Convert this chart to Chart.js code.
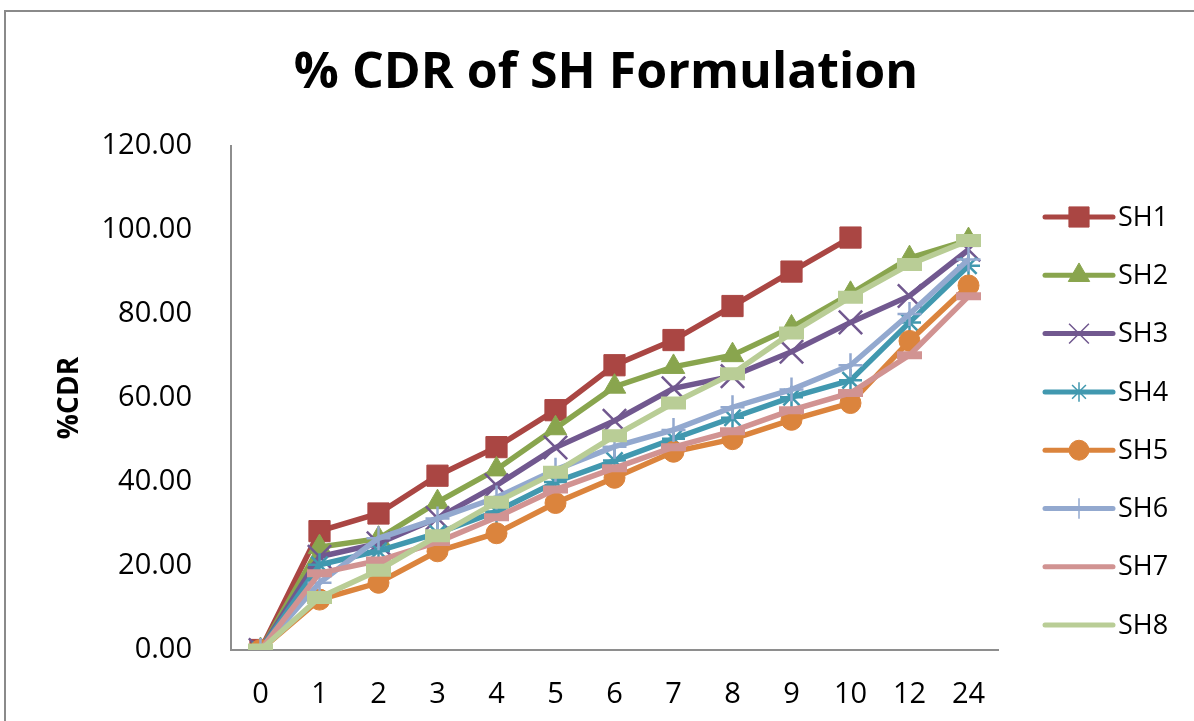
<!DOCTYPE html>
<html>
<head>
<meta charset="utf-8">
<title>% CDR of SH Formulation</title>
<script src="https://cdn.jsdelivr.net/npm/chart.js@4.4.1/dist/chart.umd.min.js"></script>
<style>
  html, body { margin: 0; padding: 0; background: #fff; overflow: hidden; }
  #wrap { position: relative; width: 1194px; height: 721px; }
  #frame {
    position: absolute; left: 4px; top: 10px; width: 1300px; height: 800px;
    border: 2px solid #8a8a8a; pointer-events: none;
  }
</style>
</head>
<body>
<div id="wrap">
  <canvas id="grafico" width="1194" height="721"></canvas>
  <div id="frame"></div>
</div>
<script>
// time points (h)
const horas = ['0', '1', '2', '3', '4', '5', '6', '7', '8', '9', '10', '12', '24'];

// cumulative drug release, %
const sh1 = [0, 28.3, 32.5, 41.5, 48.3, 57.1, 67.8, 73.8, 81.9, 90.1, 98.2, null, null];
const sh2 = [0, 24.5, 26.5, 35.2, 43.0, 52.8, 62.7, 67.4, 70.2, 76.8, 84.8, 93.3, 97.6];
const sh3 = [0, 22.2, 25.4, 31.4, 39.2, 48.2, 54.6, 62.3, 65.2, 71.0, 78.0, 84.3, 95.3];
const sh4 = [0, 20.3, 23.6, 27.8, 33.0, 40.0, 45.1, 50.3, 55.3, 60.2, 64.2, 78.0, 91.5];
const sh5 = [0, 12.0, 16.0, 23.5, 27.8, 35.0, 41.0, 47.2, 50.2, 54.8, 58.8, 73.6, 86.8];
const sh6 = [0, 16.0, 26.6, 31.3, 36.3, 42.9, 48.4, 52.4, 57.8, 62.0, 67.8, 80.0, 93.0];
const sh7 = [0, 18.3, 21.3, 25.7, 31.6, 38.2, 43.3, 48.3, 52.1, 57.1, 61.2, 70.2, 84.2];
const sh8 = [0, 12.5, 19.0, 27.2, 35.2, 42.3, 51.0, 58.8, 65.8, 75.5, 84.0, 91.8, 97.5];

const nombres = ['SH1', 'SH2', 'SH3', 'SH4', 'SH5', 'SH6', 'SH7', 'SH8'];
const series = [sh1, sh2, sh3, sh4, sh5, sh6, sh7, sh8];
const colores = ['#AA4643', '#89A54E', '#71588F', '#4198AF', '#DB843D', '#93A9CF', '#D19392', '#B9CD96'];

// marker per series: style, radius, border width
const marcadores = [
  { style: 'rect', radius: 15, border: 1 },
  { style: 'triangle', radius: 13, border: 1 },
  { style: 'crossRot', radius: 16.5, border: 2.5 },
  { style: 'star', radius: 11.5, border: 2.5 },
  { style: 'circle', radius: 10.5, border: 1 },
  { style: 'cross', radius: 12, border: 2.5 },
  { style: 'line', radius: 12.5, border: 8 },
  { style: 'line', radius: 12.5, border: 13 }
];

const fuente = "'Open Sans', 'Liberation Sans', sans-serif";

const datasets = series.map((valores, i) => ({
  label: nombres[i],
  data: valores,
  borderColor: colores[i],
  backgroundColor: colores[i],
  borderWidth: 5.5,
  tension: 0,
  spanGaps: false,
  pointStyle: marcadores[i].style,
  pointRadius: marcadores[i].radius,
  pointHoverRadius: marcadores[i].radius,
  pointBorderWidth: marcadores[i].border,
  pointBackgroundColor: colores[i],
  pointBorderColor: colores[i],
  order: series.length - 1 - i
}));

// legend on the right: line segment with the series marker in the middle
const leyenda = {
  id: 'leyenda',
  afterDraw(chart) {
    const ctx = chart.ctx;
    const x0 = 1045, x1 = 1113, y0 = 217, paso = 58.3;
    ctx.save();
    nombres.forEach((nombre, i) => {
      const y = y0 + i * paso;
      ctx.strokeStyle = colores[i];
      ctx.fillStyle = colores[i];
      ctx.lineWidth = 5;
      ctx.lineCap = 'round';
      ctx.beginPath();
      ctx.moveTo(x0, y);
      ctx.lineTo(x1, y);
      ctx.stroke();
      ctx.lineCap = 'butt';
      const m = marcadores[i];
      if (m.style !== 'line') {
        const thin = m.border > 1;
        ctx.lineWidth = thin ? 1.5 : m.border;
        Chart.helpers.drawPoint(ctx, {
          pointStyle: m.style,
          radius: thin ? m.radius * 0.85 : m.radius * 0.95,
          rotation: 0,
          borderWidth: ctx.lineWidth
        }, (x0 + x1) / 2, y);
      }
      ctx.fillStyle = '#000';
      ctx.font = '27px ' + fuente;
      ctx.textAlign = 'left';
      ctx.textBaseline = 'middle';
      ctx.fillText(nombre, 1118, y + 1);
    });
    ctx.restore();
  }
};

const ctx = document.getElementById('grafico').getContext('2d');
new Chart(ctx, {
  type: 'line',
  data: { labels: horas, datasets: datasets },
  options: {
    responsive: false,
    animation: false,
    layout: { padding: { left: 18, top: 0, right: 0, bottom: 0 } },
    plugins: {
      legend: { display: false },
      tooltip: { enabled: false },
      title: {
        display: true,
        text: '% CDR of SH Formulation',
        color: '#000',
        font: { family: fuente, size: 50, weight: 'bold' },
        padding: { top: 44, bottom: 42 }
      }
    },
    scales: {
      x: {
        type: 'category',
        offset: true,
        grid: { display: false },
        border: { display: true, color: '#8e8e8e', width: 2 },
        ticks: {
          color: '#000',
          font: { family: fuente, size: 29 },
          padding: 19,
          maxRotation: 0,
          autoSkip: false
        },
        afterFit(scale) { scale.height = 71; }
      },
      y: {
        min: 0,
        max: 120,
        grid: { display: false },
        border: { display: true, color: '#8e8e8e', width: 2 },
        ticks: {
          stepSize: 20,
          color: '#000',
          font: { family: fuente, size: 29 },
          padding: 31,
          callback: v => v.toFixed(2)
        },
        title: {
          display: true,
          text: '%CDR',
          color: '#000',
          font: { family: fuente, size: 28, weight: 'bold' },
          padding: { top: 35, bottom: 0 }
        },
        afterFit(scale) { scale.width = 213; }
      },
      // empty right-hand scale keeps room for the legend
      derecha: {
        type: 'linear',
        position: 'right',
        grid: { display: false },
        border: { display: false },
        ticks: { display: false },
        afterFit(scale) { scale.width = 196; }
      }
    }
  },
  plugins: [leyenda]
});
</script>
</body>
</html>
